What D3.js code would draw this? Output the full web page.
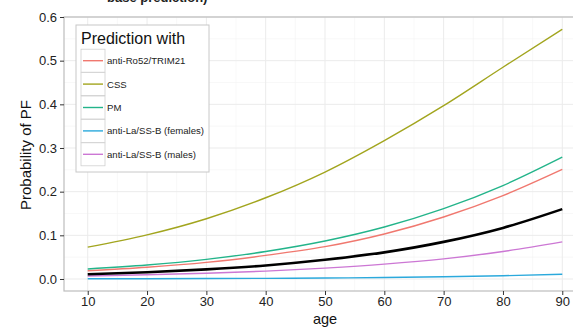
<!DOCTYPE html>
<html><head><meta charset="utf-8">
<script src="https://cdn.jsdelivr.net/npm/d3@7"></script>
<style>body{margin:0;background:#fff}svg{display:block;font-family:"Liberation Sans",Arial,sans-serif}</style>
</head><body><svg id="c" width="573" height="327"></svg>
<script>
const ages = [10,20,30,40,50,60,70,80,90];
const xTicks = [10,20,30,40,50,60,70,80,90];
const yTicks = [0.0,0.1,0.2,0.3,0.4,0.5,0.6];
const seriesNames = ["anti-Ro52/TRIM21","CSS","PM","anti-La/SS-B (females)","anti-La/SS-B (males)"];
const seriesColors = ["#f0786f","#a2a51e","#23b48a","#2ba9dc","#cc77d4"];
const antiRo52 = [0.019,0.027,0.038,0.054,0.074,0.103,0.142,0.191,0.251];
const css      = [0.073,0.101,0.138,0.186,0.245,0.317,0.397,0.485,0.572];
const pm       = [0.023,0.032,0.045,0.063,0.087,0.119,0.161,0.214,0.279];
const laFemale = [0.0005,0.0007,0.001,0.0015,0.0022,0.0033,0.005,0.0075,0.011];
const laMale   = [0.007,0.0097,0.013,0.018,0.025,0.034,0.046,0.063,0.085];
const basePred = [0.011,0.0155,0.022,0.031,0.044,0.061,0.085,0.117,0.160];
const seriesValues = [antiRo52, css, pm, laFemale, laMale];

const svg = d3.select("#c");
const pl = 64, pt = 17, pb = 291, pr = 586;
const x = d3.scaleLinear().domain([6,94]).range([pl,pr]);
const y = d3.scaleLinear().domain([-0.0275,0.6]).range([pb,pt]);

// title fragment (cropped in the reference)
svg.append("text").attr("x",107).attr("y",2).attr("font-weight","bold").attr("font-size",13).attr("fill","#222").text("base prediction)");

svg.append("rect").attr("x",pl).attr("y",pt).attr("width",pr-pl).attr("height",pb-pt).attr("fill","#fff");
const g = svg.append("g");
const minorX = d3.range(15,95,10), minorY = d3.range(0.05,0.6,0.1);
g.selectAll(".mx").data(minorX).enter().append("line").attr("x1",d=>x(d)).attr("x2",d=>x(d)).attr("y1",pt).attr("y2",pb).attr("stroke","#f4f4f4").attr("stroke-width",0.6);
g.selectAll(".my").data(minorY).enter().append("line").attr("y1",d=>y(d)).attr("y2",d=>y(d)).attr("x1",pl).attr("x2",pr).attr("stroke","#f4f4f4").attr("stroke-width",0.6);
g.selectAll(".gx").data(xTicks).enter().append("line").attr("x1",d=>x(d)).attr("x2",d=>x(d)).attr("y1",pt).attr("y2",pb).attr("stroke","#ebebeb").attr("stroke-width",1);
g.selectAll(".gy").data(yTicks).enter().append("line").attr("y1",d=>y(d)).attr("y2",d=>y(d)).attr("x1",pl).attr("x2",pr).attr("stroke","#ebebeb").attr("stroke-width",1);

const line = d3.line().x((d,i)=>x(ages[i])).y(d=>y(d)).curve(d3.curveMonotoneX);
seriesValues.forEach((vals,k)=>{
  g.append("path").attr("d",line(vals)).attr("fill","none").attr("stroke",seriesColors[k]).attr("stroke-width",1.4);
});
g.append("path").attr("d",line(basePred)).attr("fill","none").attr("stroke","#000").attr("stroke-width",2.6);

svg.append("rect").attr("x",pl).attr("y",pt).attr("width",pr-pl).attr("height",pb-pt).attr("fill","none").attr("stroke","#bdbdbd").attr("stroke-width",1.2);

const xAxis = svg.append("g").attr("transform",`translate(0,${pb})`).call(d3.axisBottom(x).tickValues(xTicks).tickSize(4).tickPadding(2));
const yAxis = svg.append("g").attr("transform",`translate(${pl},0)`).call(d3.axisLeft(y).tickValues(yTicks).tickFormat(d3.format(".1f")).tickSize(4).tickPadding(3));
[xAxis,yAxis].forEach(a=>{
  a.select(".domain").remove();
  a.selectAll(".tick line").attr("stroke","#333").attr("stroke-width",1);
  a.selectAll("text").attr("font-size",13).attr("fill","#222").attr("font-family","Liberation Sans, Arial, sans-serif");
});

svg.append("text").attr("x",x(50)).attr("y",323.5).attr("text-anchor","middle").attr("font-size",14.5).attr("fill","#111").text("age");
svg.append("text").attr("transform",`translate(31,155) rotate(-90)`).attr("text-anchor","middle").attr("font-size",15).attr("fill","#111").text("Probability of PF");

const lg = svg.append("g");
lg.append("rect").attr("x",76).attr("y",25).attr("width",133).attr("height",147).attr("fill","#fff").attr("stroke","#c8c8c8").attr("stroke-width",1);
lg.append("text").attr("x",81).attr("y",44).attr("font-size",16).attr("fill","#111").text("Prediction with");
seriesNames.forEach((n,k)=>{
  const cy = 60.7 + k*23.4;
  lg.append("rect").attr("x",81).attr("y",cy-11.5).attr("width",24).attr("height",23).attr("fill","#fff").attr("stroke","#d0d0d0").attr("stroke-width",0.8);
  lg.append("line").attr("x1",83).attr("x2",103).attr("y1",cy).attr("y2",cy).attr("stroke",seriesColors[k]).attr("stroke-width",1.4);
  lg.append("text").attr("x",107).attr("y",cy+3.5).attr("font-size",9.6).attr("fill","#222").text(n);
});
</script></body></html>
